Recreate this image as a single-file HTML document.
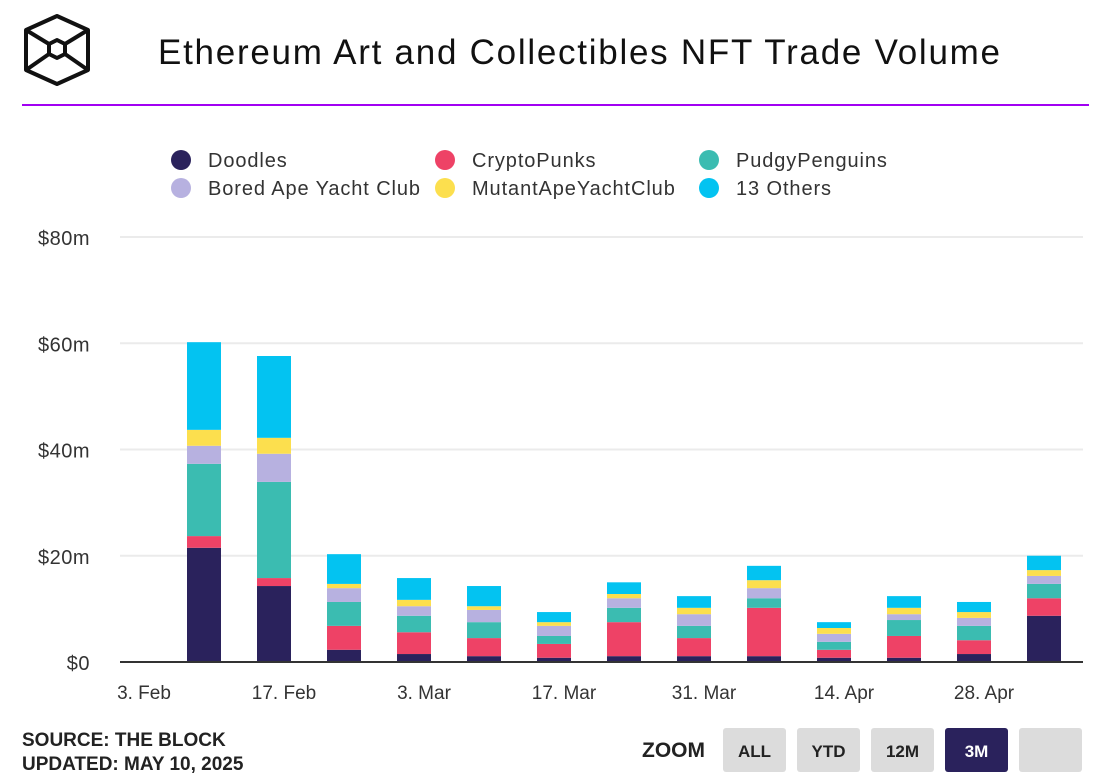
<!DOCTYPE html>
<html><head><meta charset="utf-8"><style>
body{margin:0;background:#fff;font-family:"Liberation Sans",sans-serif;}
#wrap{position:relative;width:1112px;height:784px;overflow:hidden;}
</style></head><body>
<div id="wrap">
<svg id="svg" width="1112" height="784" xmlns="http://www.w3.org/2000/svg">
 <g fill="none" stroke="#111" stroke-width="4" stroke-linejoin="round">
  <polygon points="57,16 88,30 88,70 57,84 26,70 26,30"/>
  <polygon points="57,40 65,44 65,54 57,58 49,54 49,44"/>
  <line x1="26" y1="30" x2="49" y2="44"/><line x1="88" y1="30" x2="65" y2="44"/>
  <line x1="26" y1="70" x2="49" y2="54"/><line x1="88" y1="70" x2="65" y2="54"/>
 </g>
 <text x="158" y="64" font-size="35" fill="#111" textLength="842" lengthAdjust="spacing">Ethereum Art and Collectibles NFT Trade Volume</text>
 <rect x="22" y="104" width="1067" height="2" fill="#a100f2"/>
 <g id="legend"></g>
 <g id="grid"></g>
 <g id="bars"></g>
 <g id="xaxis"></g>
 <text x="22" y="746" font-size="19" font-weight="bold" fill="#222">SOURCE: THE BLOCK</text>
 <text x="22" y="770" font-size="19" font-weight="bold" fill="#222">UPDATED: MAY 10, 2025</text>
 <text x="642" y="757" font-size="21" font-weight="bold" fill="#222">ZOOM</text>
 <g id="zoom"></g>
</svg>
</div>
<script>
const categories=["9 Feb","16 Feb","23 Feb","2 Mar","9 Mar","16 Mar","23 Mar","30 Mar","6 Apr","13 Apr","20 Apr","27 Apr","4 May"];
const barDays=[6,13,20,27,34,41,48,55,62,69,76,83,90];
const doodles=[21.5,14.3,2.3,1.5,1.1,0.8,1.1,1.1,1.1,0.8,0.8,1.5,8.7];
const cryptoPunks=[2.2,1.5,4.5,4.1,3.4,2.6,6.4,3.4,9.1,1.5,4.1,2.6,3.3];
const pudgyPenguins=[13.6,18.1,4.5,3.1,3.0,1.5,2.7,2.3,1.8,1.5,3.0,2.7,2.7];
const boredApe=[3.4,5.3,2.6,1.8,2.3,1.9,1.8,2.2,1.9,1.5,1.1,1.5,1.5];
const mutantApe=[3.0,3.0,0.8,1.2,0.7,0.7,0.8,1.2,1.5,1.1,1.2,1.1,1.1];
const others=[16.5,15.4,5.6,4.1,3.8,1.9,2.2,2.2,2.7,1.1,2.2,1.9,2.7];
const yTicks=[0,20,40,60,80];
const yTickLabels=["$0","$20m","$40m","$60m","$80m"];
const xTickDays=[0,14,28,42,56,70,84];
const xTickLabels=["3. Feb","17. Feb","3. Mar","17. Mar","31. Mar","14. Apr","28. Apr"];
const seriesNames=["Doodles","CryptoPunks","PudgyPenguins","Bored Ape Yacht Club","MutantApeYachtClub","13 Others"];
const zoomLabels=["ALL","YTD","12M","3M",""];

const NS="http://www.w3.org/2000/svg";
const series=[doodles,cryptoPunks,pudgyPenguins,boredApe,mutantApe,others];
const colors=["#2a225c","#ee4266","#3bbcb1","#b7b1e0","#fcdf4e","#03c3f1"];
const y=v=>662-v*5.3125;
const x=d=>204+10*(d-6);
function mk(tag,attrs,parent){const e=document.createElementNS(NS,tag);for(const k in attrs)e.setAttribute(k,attrs[k]);parent.appendChild(e);return e;}
const grid=document.getElementById('grid');
yTicks.forEach((t,i)=>{
 if(t>0){const l=mk('line',{x1:120,x2:1083,y1:y(t),y2:y(t),stroke:'#ebebeb','stroke-width':2},grid);
 
 }
 const tx=mk('text',{x:90,y:y(t)+8,'font-size':20,fill:'#333','text-anchor':'end','letter-spacing':0.5},grid);tx.textContent=yTickLabels[i];
 
 
});
const bars=document.getElementById('bars');
categories.forEach((c,i)=>{
 let base=0;
 series.forEach((s,j)=>{
  const r=mk('rect',{x:x(barDays[i])-17,width:34,y:y(base+s[i]),height:y(base)-y(base+s[i]),fill:colors[j]},bars);
  
  
  base+=s[i];
 });
});
const xa=document.getElementById('xaxis');
const bl=mk('line',{x1:120,x2:1083,y1:662,y2:662,stroke:'#333','stroke-width':2},xa);


xTickDays.forEach((d,i)=>{
 const t=mk('text',{x:x(d),y:699,'font-size':19,fill:'#333','text-anchor':'middle'},xa);t.textContent=xTickLabels[i];
 
 
});
const lg=document.getElementById('legend');
seriesNames.forEach((n,i)=>{
 const col=i%3,row=Math.floor(i/3);
 const lx=[181,445,709][col],ly=160+row*28;
 const g=mk('g',{},lg);
 
 
 mk('circle',{cx:lx,cy:ly,r:10,fill:colors[i]},g);
 const t=mk('text',{x:lx+27,y:ly+7,'font-size':20,fill:'#333','letter-spacing':0.9},g);t.textContent=n;
});
const zm=document.getElementById('zoom');
zoomLabels.forEach((z,i)=>{
 const bx=723+i*74,act=z==="3M";
 const g=mk('g',{},zm);
 
 
 mk('rect',{x:bx,y:728,width:63,height:44,rx:3,fill:act?'#2a225c':'#dcdcdc'},g);
 const t=mk('text',{x:bx+31.5,y:757,'font-size':17,'font-weight':'bold','text-anchor':'middle',fill:act?'#fff':'#222'},g);t.textContent=z;
});
</script>
</body></html>
